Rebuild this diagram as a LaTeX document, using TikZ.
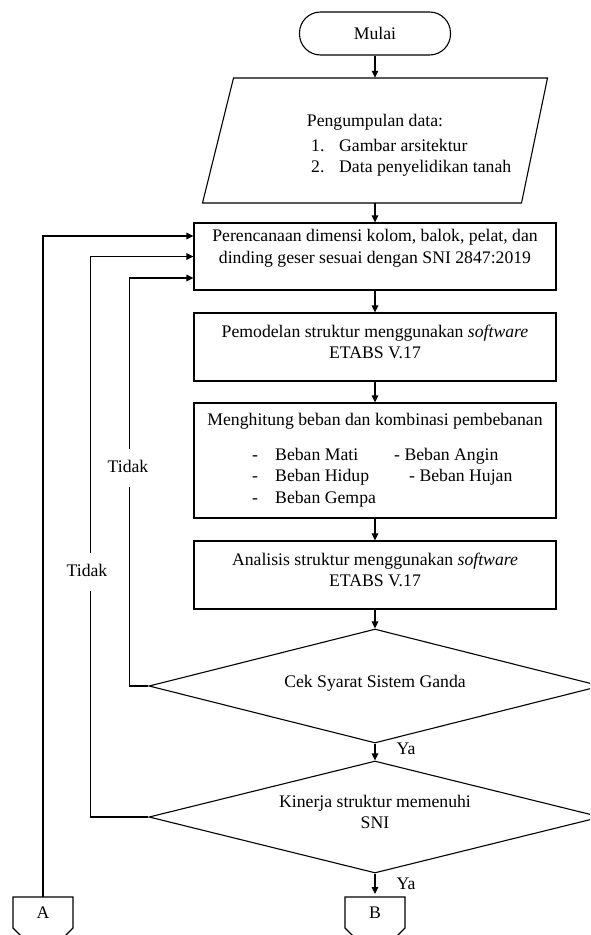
\documentclass[tikz,border=0pt]{standalone}
\usepackage{fontspec}
\setmainfont{Liberation Serif}
\usetikzlibrary{arrows.meta,positioning,shapes.geometric,calc}

\tikzset{
  every node/.style={font=\fontsize{17.7}{21.5}\selectfont},
  line/.style={line width=1.1pt},
  flow/.style={line, -{Triangle[length=7pt,width=6.5pt]}},
  box/.style={line, draw, rectangle, minimum width=362pt, inner sep=0pt},
  txt/.style={inner sep=0pt, align=center},
  item/.style={inner sep=0pt, anchor=west, text height=12pt, text depth=3.5pt},
  answer/.style={fill=white, inner xsep=2pt, inner ysep=11pt, text height=12pt, text depth=3.5pt},
  decision/.style={line, draw, diamond, inner sep=0pt, minimum width=452pt}
}

\begin{document}
\begin{tikzpicture}[x=1pt,y=-1pt]
    \useasboundingbox (0,0) rectangle (590,935);
    \clip (0,0) rectangle (590,935);

    % Start and input
    \node[line, draw, rectangle, rounded corners=21pt, minimum width=151pt, minimum height=43pt] (start) at (375,33.5) {Mulai};
    \node[rectangle, minimum width=314pt, minimum height=125pt, inner sep=0pt] (data) at (375,140.5) {};
    \draw[line] (233.5,78) -- (547.5,78) -- (521.5,203) -- (202.5,203) -- cycle;
    \node[txt] (datatitle) at (375,122) {Pengumpulan data:};
    \node[item] (dnum1) at (311,147) {1.};
    \node[item] (ditem1) at (339,147) {Gambar arsitektur};
    \node[item] (dnum2) at (311,168) {2.};
    \node[item] (ditem2) at (339,168) {Data penyelidikan tanah};

    % Process boxes
    \node[box, minimum height=67pt] (plan) at (375,256.5) {};
    \node[txt] (plantxt) at (375,248.5) {Perencanaan dimensi kolom, balok, pelat, dan\\dinding geser sesuai dengan SNI 2847:2019};
    \node[box, minimum height=68pt] (model) at (375,347) {};
    \node[txt] (modeltxt) at (375,342) {Pemodelan struktur menggunakan \textit{software}\\ETABS V.17};
    \node[box, minimum height=115pt] (load) at (375,460.5) {};
    \node[txt] (loadtxt) at (375,421) {Menghitung beban dan kombinasi pembebanan};
    \node[item] (ldash1) at (252,456) {-};
    \node[item] (litem1) at (275,456) {Beban Mati};
    \node[item] (litem4) at (394,456) {- Beban Angin};
    \node[item] (ldash2) at (252,477) {-};
    \node[item] (litem2) at (275,477) {Beban Hidup};
    \node[item] (litem5) at (409,477) {- Beban Hujan};
    \node[item] (ldash3) at (252,499) {-};
    \node[item] (litem3) at (275,499) {Beban Gempa};
    \node[box, minimum height=68pt] (analysis) at (375,575) {};
    \node[txt] (analysistxt) at (375,570) {Analisis struktur menggunakan \textit{software}\\ETABS V.17};

    % Decisions
    \node[decision, minimum height=114pt] (cek) at (375,686) {};
    \node[txt] (cektxt) at (375,683) {Cek Syarat Sistem Ganda};
    \node[decision, minimum height=112pt] (kinerja) at (375,817) {};
    \node[txt] (kinerjatxt) at (375,812) {Kinerja struktur memenuhi\\SNI};

    % Connectors
    \node[item, anchor=center] (connAtxt) at (43,914) {A};
    \node[item, anchor=center] (connBtxt) at (375,914) {B};
    \draw[line] (13,928) -- (13,897) -- (73,897) -- (73,928) -- (43,958) -- cycle;
    \draw[line] (345,928) -- (345,897) -- (405,897) -- (405,928) -- (375,958) -- cycle;
    \coordinate (connA) at (43,897);
    \coordinate (connB) at (375,897);

    % Main flow
    \draw[flow] (start) -- (data);
    \draw[flow] (data) -- (plan);
    \draw[flow] (plan) -- (model);
    \draw[flow] (model) -- (load);
    \draw[flow] (load) -- (analysis);
    \draw[flow] (analysis) -- (cek);
    \draw[flow] (cek) -- (kinerja);
    \draw[flow] (kinerja) -- ([yshift=3pt]connB);
    \node (ya1) at (406,749) {Ya};
    \node (ya2) at (406,884) {Ya};

    % Feedback loops
    \draw[flow] (connA) |- ([yshift=20.5pt]plan.west);
    \draw[flow] (kinerja.west) -- ++(-58,0) |- (plan.west);
    \draw[flow] (cek.west) -- ++(-19,0) |- ([yshift=-21.5pt]plan.west);
    \node[answer] (tidak1) at (128,468) {Tidak};
    \node[answer] (tidak2) at (87,572) {Tidak};
\end{tikzpicture}
\end{document}
